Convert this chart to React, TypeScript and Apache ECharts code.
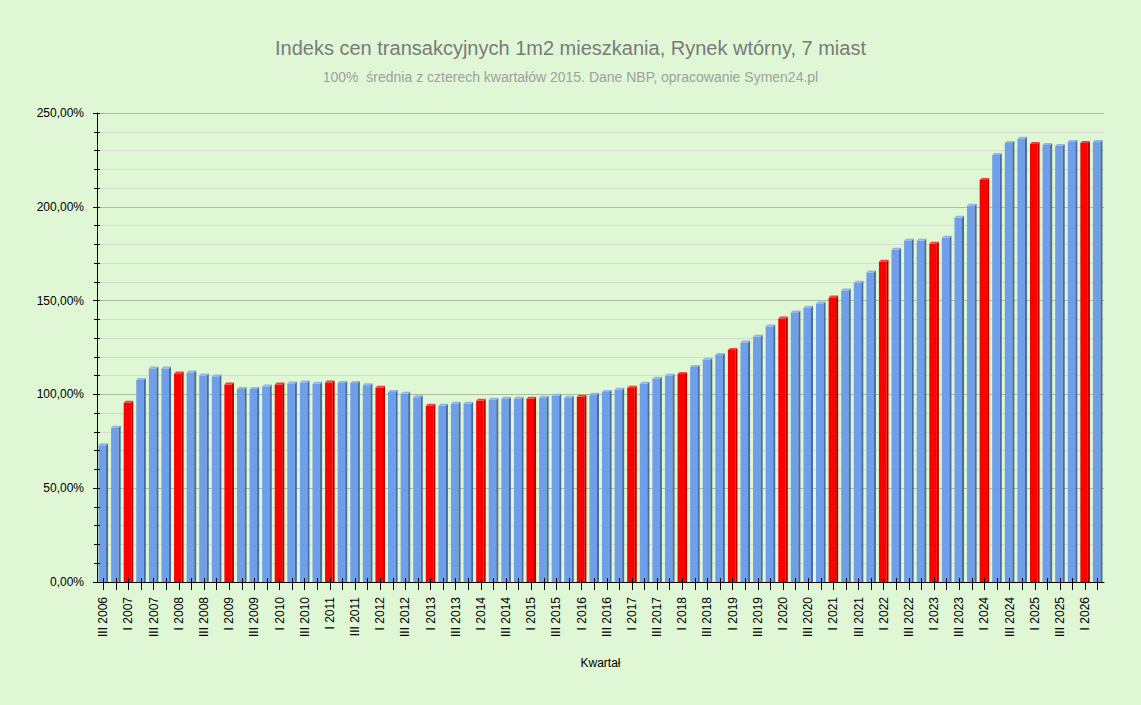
import React, { useEffect, useRef } from "react";
import * as echarts from "echarts";

const TITLE = "Indeks cen transakcyjnych 1m2 mieszkania, Rynek wtórny, 7 miast";
const SUBTITLE = "100%  średnia z czterech kwartałów 2015. Dane NBP, opracowanie Symen24.pl";
const X_NAME = "Kwartał";

const QUARTERS = [
  "III 2006", "IV 2006",
  "I 2007", "II 2007", "III 2007", "IV 2007",
  "I 2008", "II 2008", "III 2008", "IV 2008",
  "I 2009", "II 2009", "III 2009", "IV 2009",
  "I 2010", "II 2010", "III 2010", "IV 2010",
  "I 2011", "II 2011", "III 2011", "IV 2011",
  "I 2012", "II 2012", "III 2012", "IV 2012",
  "I 2013", "II 2013", "III 2013", "IV 2013",
  "I 2014", "II 2014", "III 2014", "IV 2014",
  "I 2015", "II 2015", "III 2015", "IV 2015",
  "I 2016", "II 2016", "III 2016", "IV 2016",
  "I 2017", "II 2017", "III 2017", "IV 2017",
  "I 2018", "II 2018", "III 2018", "IV 2018",
  "I 2019", "II 2019", "III 2019", "IV 2019",
  "I 2020", "II 2020", "III 2020", "IV 2020",
  "I 2021", "II 2021", "III 2021", "IV 2021",
  "I 2022", "II 2022", "III 2022", "IV 2022",
  "I 2023", "II 2023", "III 2023", "IV 2023",
  "I 2024", "II 2024", "III 2024", "IV 2024",
  "I 2025", "II 2025", "III 2025", "IV 2025",
  "I 2026", "II 2026",
];

const INDEX_VALUES = [
  73.9, 83.3,
  96.6, 108.8, 114.9, 114.9,
  112.2, 112.8, 111.2, 110.6,
  106.4, 104.0, 104.0, 105.3,
  106.4, 106.9, 107.4, 106.7,
  107.4, 107.2, 107.2, 105.9,
  104.6, 102.4, 101.4, 99.6,
  95.0, 95.0, 96.1, 96.1,
  97.7, 98.2, 98.7, 98.7,
  98.7, 99.3, 100.3, 99.3,
  99.8, 100.9, 102.4, 103.5,
  104.6, 106.7, 109.4, 111.0,
  112.0, 115.7, 119.5, 122.1,
  124.8, 128.7, 131.8, 137.2,
  141.5, 144.7, 147.3, 149.5,
  152.7, 156.4, 160.6, 166.0,
  171.8, 178.2, 183.0, 183.0,
  181.4, 184.6, 195.2, 201.6,
  215.4, 228.7, 235.1, 237.4,
  234.6, 234.0, 233.5, 235.6,
  235.1, 235.6,
];

const Y_MIN = 0;
const Y_MAX = 250;
const Y_MAJOR = 50;
const Y_MINOR = 10;

const FONT = "'Liberation Sans', Arial, sans-serif";

export default function App() {
  const ref = useRef<HTMLDivElement>(null);

  useEffect(() => {
    document.body.style.margin = "0";
    if (!ref.current) return;
    const chart = echarts.init(ref.current, undefined, { renderer: "svg" });

    const data = INDEX_VALUES.map((v, i) => [i, v]);

    const option: any = {
      animation: false,
      backgroundColor: "#dff7d5",
      textStyle: { fontFamily: FONT },
      title: [
        {
          text: TITLE,
          left: "center",
          top: 33,
          textStyle: { fontFamily: FONT, fontSize: 20, fontWeight: "normal", color: "#7a7a7a" },
        },
        {
          text: SUBTITLE,
          left: "center",
          top: 65,
          textStyle: { fontFamily: FONT, fontSize: 14, fontWeight: "normal", color: "#a0a0a0" },
        },
      ],
      grid: { left: 97, right: 37, top: 113, bottom: 123, containLabel: false },
      xAxis: [
        {
          type: "category",
          data: QUARTERS,
          position: "bottom",
          boundaryGap: true,
          name: X_NAME,
          nameLocation: "middle",
          nameGap: 75,
          nameTextStyle: { fontFamily: FONT, fontSize: 12, color: "#000" },
          axisLine: { show: true, lineStyle: { color: "#000", width: 1 } },
          axisTick: { show: true, alignWithLabel: true, length: 8, interval: 0, lineStyle: { color: "#000" } },
          axisLabel: {
            interval: 1,
            rotate: 90,
            margin: 15,
            fontFamily: FONT,
            fontSize: 12,
            color: "#000",
          },
          splitLine: { show: false },
        },
        {
          type: "category",
          data: QUARTERS,
          position: "bottom",
          boundaryGap: true,
          z: 10,
          axisLine: { show: false },
          axisTick: { show: true, inside: true, alignWithLabel: true, length: 4, interval: 0, lineStyle: { color: "#000" } },
          axisLabel: { show: false },
          splitLine: { show: false },
        },
      ],
      yAxis: [
        {
          type: "value",
          min: Y_MIN,
          max: Y_MAX,
          interval: Y_MAJOR,
          axisLine: { show: true, lineStyle: { color: "#000", width: 1 } },
          axisTick: { show: true, length: 4, lineStyle: { color: "#000" } },
          minorTick: { show: true, splitNumber: Y_MAJOR / Y_MINOR, length: 3, lineStyle: { color: "#000" } },
          axisLabel: {
            margin: 13,
            fontFamily: FONT,
            fontSize: 12,
            color: "#000",
            formatter: (v: number) => v.toFixed(2).replace(".", ",") + "%",
          },
          splitLine: { show: true, lineStyle: { color: "#a8be9e", width: 1 } },
          minorSplitLine: { show: true, lineStyle: { color: "#d3dccd", width: 1 } },
        },
        {
          type: "value",
          min: Y_MIN,
          max: Y_MAX,
          interval: Y_MINOR,
          position: "left",
          z: 10,
          axisLine: { show: false },
          axisTick: { show: true, inside: true, length: 3, lineStyle: { color: "#000" } },
          axisLabel: { show: false },
          splitLine: { show: false },
        },
      ],
      series: [
        {
          type: "custom",
          xAxisIndex: 0,
          yAxisIndex: 0,
          encode: { x: 0, y: 1 },
          data,
          z: 2,
          renderItem: (params: any, api: any) => {
            const idx = api.value(0);
            const v = api.value(1);
            const top = api.coord([idx, v]);
            const base = api.coord([idx, 0]);
            const band = api.size([1, 0])[0];
            const d = 2;
            const fw = band * 0.6;
            const x0 = top[0] - (fw + d) / 2;
            const yTop = top[1] + d;
            const yBase = base[1];
            const isQ1 = QUARTERS[idx].startsWith("I ");
            const front = isQ1 ? "#ff0000" : "#6f9eea";
            const side = isQ1 ? "#b00000" : "#4a6b9e";
            const cap = isQ1 ? "#ff3a3a" : "#8db5f2";
            return {
              type: "group",
              children: [
                {
                  type: "rect",
                  shape: { x: x0, y: yTop, width: fw, height: yBase - yTop },
                  style: { fill: front },
                },
                {
                  type: "polygon",
                  shape: {
                    points: [
                      [x0 + fw, yTop],
                      [x0 + fw + d, yTop - d],
                      [x0 + fw + d, yBase],
                      [x0 + fw, yBase],
                    ],
                  },
                  style: { fill: side },
                },
                {
                  type: "polygon",
                  shape: {
                    points: [
                      [x0, yTop],
                      [x0 + d, yTop - d],
                      [x0 + fw + d, yTop - d],
                      [x0 + fw, yTop],
                    ],
                  },
                  style: { fill: cap },
                },
              ],
            };
          },
        },
      ],
    };

    chart.setOption(option);
    return () => chart.dispose();
  }, []);

  return <div ref={ref} style={{ width: 1141, height: 705 }} />;
}
